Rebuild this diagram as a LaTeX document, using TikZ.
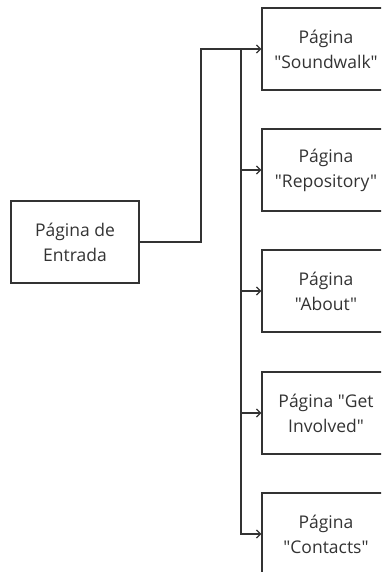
\documentclass[tikz,border=0pt]{standalone}
\usepackage{fontspec}
\setmainfont{Open Sans}[Ligatures=TeXOff]
\usetikzlibrary{arrows.meta}

\definecolor{ink}{HTML}{333333}

\tikzset{
  page/.style={draw=ink, line width=1.3pt, text=ink, minimum width=128pt,
    minimum height=82pt, align=center, font=\fontsize{17.5}{25}\selectfont},
  link/.style={draw=ink, line width=1.3pt, -{Straight Barb[length=4pt,width=8pt]}}
}

\begin{document}
\begin{tikzpicture}[x=1pt, y=1pt]
    \clip (0, 0) rectangle (381, 572);

    % Entry page
    \node [page] (entrada) at (75, 330) {Página de\\Entrada};

    % Sub pages
    \node [page] (soundwalk) at (326, 523) {Página\\"Soundwalk"};
    \node [page] (repository) at (326, 402) {Página\\"Repository"};
    \node [page] (about) at (326, 281) {Página\\"About"};
    \node [page] (involved) at (326, 159) {Página "Get\\Involved"};
    \node [page] (contacts) at (326, 38) {Página\\"Contacts"};

    % Links
    \coordinate (bend) at (201, 330);
    \coordinate (trunk) at (241, 523);
    \draw [link] (entrada) -- (bend) |- (soundwalk);
    \foreach \p in {repository, about, involved, contacts}
      \draw [link] (trunk) |- (\p);
  \end{tikzpicture}
\end{document}
